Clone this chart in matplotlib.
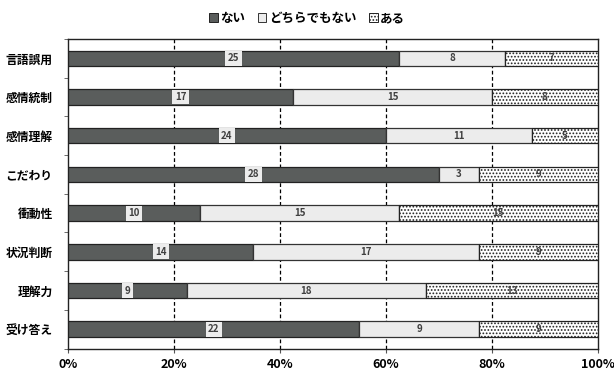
import matplotlib
matplotlib.use("Agg")
import matplotlib.pyplot as plt
import numpy as np
from matplotlib.patches import Patch

plt.rcParams['font.family'] = ['Noto Sans CJK JP', 'DejaVu Sans']
plt.rcParams['hatch.linewidth'] = 0.8

categories = ['言語誤用', '感情統制', '感情理解', 'こだわり', '衝動性', '状況判断', '理解力', '受け答え']
series_names = ['ない', 'どちらでもない', 'ある']
nai = [25, 17, 24, 28, 10, 14, 9, 22]
dochira = [8, 15, 11, 3, 15, 17, 18, 9]
aru = [7, 8, 5, 9, 15, 9, 13, 9]
xtick_labels = ['0%', '20%', '40%', '60%', '80%', '100%']

fig = plt.figure(figsize=(6.14, 3.74), dpi=100)
ax = fig.add_axes([0.1107, 0.068, 0.863, 0.8277])

data = np.array([nai, dochira, aru], dtype=float)
totals = data.sum(axis=0)
pct = data / totals * 100
y = np.arange(len(categories))

styles = [
    dict(color='#5a5d5c', edgecolor='#222222', hatch=None),
    dict(color='#ececec', edgecolor='#333333', hatch=None),
    dict(color='#ffffff', edgecolor='#222222', hatch='.....'),
]

left = np.zeros(len(categories))
for i, (vals, st) in enumerate(zip(pct, styles)):
    bars = ax.barh(y, vals, left=left, height=0.4, color=st['color'],
                   edgecolor=st['edgecolor'], linewidth=0.9, hatch=st['hatch'], zorder=3)
    for j, b in enumerate(bars):
        cx = left[j] + vals[j] / 2
        if i == 0:
            ax.text(cx, y[j], f"{int(data[i][j])}", ha='center', va='center', fontsize=7,
                    fontweight='bold', color='#404040', zorder=5,
                    bbox=dict(boxstyle='square,pad=0.25', facecolor='#ececec', edgecolor='none'))
        else:
            ax.text(cx, y[j], f"{int(data[i][j])}", ha='center', va='center', fontsize=7,
                    fontweight='bold', color='#404040', zorder=5)
    left = left + vals

ax.set_xlim(0, 100)
ax.set_ylim(len(categories) - 0.5, -0.5)
ax.set_xticks([0, 20, 40, 60, 80, 100])
ax.set_xticklabels(xtick_labels, fontsize=9, fontweight='bold')
ax.set_yticks(y)
ax.set_yticklabels(categories, fontsize=8.5, fontweight='bold')
ax.tick_params(axis='y', length=0, pad=11)
ax.tick_params(axis='x', length=3, pad=4, color='#555555')
ax.set_yticks(np.arange(len(categories) + 1) - 0.5, minor=True)
ax.tick_params(axis='y', which='minor', length=3, color='#555555')

for xv in [20, 40, 60, 80]:
    ax.axvline(xv, color='black', linestyle=(0, (3, 2)), linewidth=0.9, zorder=1)

for s in ax.spines.values():
    s.set_color('#222222')
    s.set_linewidth(1.0)

handles = [Patch(facecolor=st['color'], edgecolor=st['edgecolor'], hatch=st['hatch'], linewidth=0.7)
           for st in styles]
fig.legend(handles, series_names, loc='upper center', bbox_to_anchor=(0.5, 0.998), ncol=3,
           frameon=False, prop={'weight': 'bold', 'size': 9}, handlelength=0.7,
           handleheight=0.7, handletextpad=0.2, columnspacing=1.0)

fig.savefig('out.png', dpi=100)
